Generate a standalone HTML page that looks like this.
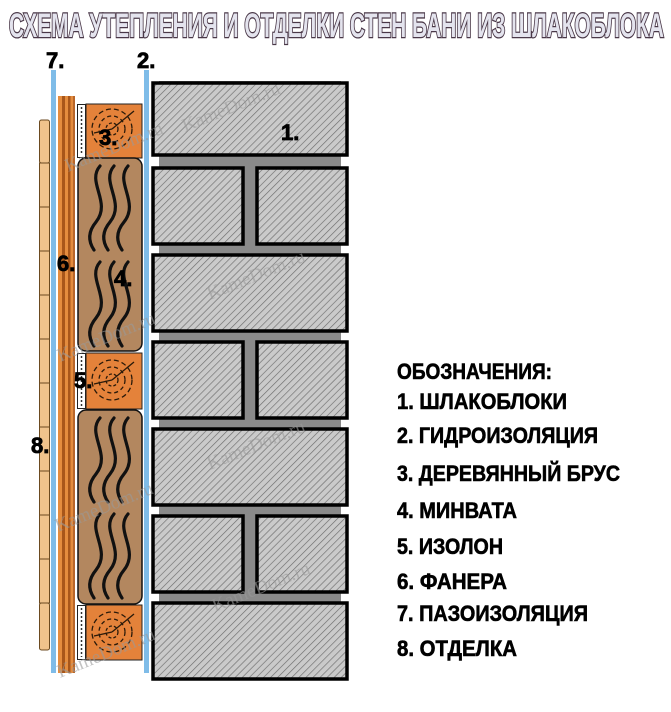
<!DOCTYPE html>
<html><head><meta charset="utf-8"><style>html,body{margin:0;padding:0;background:#fff;width:671px;height:712px;overflow:hidden}</style></head>
<body>
<svg width="671" height="712" viewBox="0 0 671 712" xmlns="http://www.w3.org/2000/svg">
<defs>
<pattern id="h" width="5" height="5" patternUnits="userSpaceOnUse" patternTransform="rotate(45)">
<rect width="5" height="5" fill="#cacaca"/><line x1="0" y1="0" x2="0" y2="5" stroke="#6d6d6d" stroke-width="1.3"/>
</pattern>
<g id="wood">
<circle cx="0" cy="0" r="20" fill="none" stroke="#2a1a0a" stroke-width="1.3" stroke-dasharray="5 3"/>
<circle cx="0" cy="0" r="13" fill="none" stroke="#2a1a0a" stroke-width="1.3" stroke-dasharray="4 3"/>
<circle cx="0" cy="0" r="6" fill="none" stroke="#2a1a0a" stroke-width="1.3" stroke-dasharray="3 2"/>
<line x1="0" y1="0" x2="22" y2="-18" stroke="#2a1a0a" stroke-width="1.3"/>
<line x1="0" y1="0" x2="-18" y2="4" stroke="#2a1a0a" stroke-width="1.3"/>
</g>
<g id="waves" fill="none" stroke="#111" stroke-width="3.2" stroke-linecap="round">
<path d="M22 4 C8 20,34 40,18 60 C8 72,12 82,16 88"/>
<path d="M36 4 C22 20,48 40,32 60 C22 72,26 82,30 88"/>
<path d="M50 4 C36 20,62 40,46 60 C36 72,40 82,44 88"/>
</g>
</defs>

<!-- title -->
<text x="9" y="37" textLength="655" lengthAdjust="spacingAndGlyphs" font-family="Liberation Sans Narrow, Liberation Sans, sans-serif" font-weight="bold" font-size="34" fill="#e4e4ee" stroke="#4a3848" stroke-width="2.6" paint-order="stroke">СХЕМА УТЕПЛЕНИЯ И ОТДЕЛКИ СТЕН БАНИ ИЗ ШЛАКОБЛОКА</text>

<!-- mortar -->
<rect x="159" y="81" width="182" height="598" fill="#8a8a8a"/>
<!-- blocks -->
<g fill="url(#h)" stroke="#000" stroke-width="3.5">
<rect x="153" y="83" width="194" height="72"/>
<rect x="153" y="168" width="90" height="76"/><rect x="257" y="168" width="90" height="76"/>
<rect x="153" y="255" width="194" height="76"/>
<rect x="153" y="342" width="90" height="76"/><rect x="257" y="342" width="90" height="76"/>
<rect x="153" y="429" width="194" height="76"/>
<rect x="153" y="516" width="90" height="76"/><rect x="257" y="516" width="90" height="76"/>
<rect x="153" y="603" width="194" height="76"/>
</g>

<!-- blue membranes -->
<rect x="144" y="70" width="5" height="603" fill="#7fbce8"/>
<rect x="51" y="70" width="5" height="603" fill="#7fbce8"/>

<!-- finish 8 -->
<g fill="#f0c38c" stroke="#6b4a20" stroke-width="1">
<rect x="39.5" y="120" width="10" height="43" rx="2"/>
<rect x="39.5" y="163" width="10" height="44"/>
<rect x="39.5" y="207" width="10" height="44"/>
<rect x="39.5" y="251" width="10" height="44"/>
<rect x="39.5" y="295" width="10" height="44"/>
<rect x="39.5" y="339" width="10" height="44"/>
<rect x="39.5" y="383" width="10" height="44"/>
<rect x="39.5" y="427" width="10" height="44"/>
<rect x="39.5" y="471" width="10" height="44"/>
<rect x="39.5" y="515" width="10" height="44"/>
<rect x="39.5" y="559" width="10" height="44"/>
<rect x="39.5" y="603" width="10" height="47" rx="2"/>
</g>

<!-- plywood 6 -->
<rect x="58" y="96" width="17" height="577" fill="#e48c3e"/>
<rect x="62" y="96" width="3" height="577" fill="#a8561a"/>
<rect x="68" y="96" width="2.5" height="577" fill="#a8561a"/>
<rect x="73" y="96" width="2" height="577" fill="#b8662a"/>

<!-- izolon strips -->
<g fill="#fff" stroke="#222" stroke-width="1">
<rect x="77.5" y="104.5" width="8" height="53"/>
<rect x="77.5" y="353.5" width="8" height="55"/>
<rect x="77.5" y="605.5" width="8" height="54"/>
</g>
<g stroke="#333" stroke-width="1.5" stroke-dasharray="2 2">
<line x1="81.5" y1="107" x2="81.5" y2="155"/>
<line x1="81.5" y1="356" x2="81.5" y2="406"/>
<line x1="81.5" y1="608" x2="81.5" y2="657"/>
</g>

<!-- bars 3/5 -->
<g fill="#e4823a" stroke="#222" stroke-width="1">
<rect x="86" y="104" width="56" height="54"/>
<rect x="86" y="353" width="56" height="56"/>
<rect x="86" y="605" width="56" height="55"/>
</g>
<use href="#wood" x="112" y="129"/>
<use href="#wood" x="112" y="380"/>
<use href="#wood" x="112" y="632"/>

<!-- minvata -->
<g fill="#b3875f" stroke="#111" stroke-width="1.5">
<rect x="78" y="158" width="64" height="193" rx="8"/>
<rect x="78" y="410" width="64" height="194" rx="8"/>
</g>
<use href="#waves" x="78" y="162"/>
<use href="#waves" x="78" y="258"/>
<use href="#waves" x="78" y="414"/>
<use href="#waves" x="78" y="510"/>

<!-- watermarks -->
<g font-family="Liberation Serif, serif" font-size="19" fill="#9a9a9a" opacity="0.6">
<text transform="translate(68,172) rotate(-22)">KameDom.ru</text>
<text transform="translate(210,300) rotate(-22)">KameDom.ru</text>
<text transform="translate(60,362) rotate(-22)">KameDom.ru</text>
<text transform="translate(210,470) rotate(-22)">KameDom.ru</text>
<text transform="translate(58,532) rotate(-22)">KameDom.ru</text>
<text transform="translate(215,612) rotate(-22)">KameDom.ru</text>
<text transform="translate(60,678) rotate(-22)">KameDom.ru</text>
<text transform="translate(185,132) rotate(-22)">KameDom.ru</text>
</g>

<!-- labels -->
<g font-family="Liberation Sans, sans-serif" font-weight="bold" font-size="22" fill="#000" stroke="#000" stroke-width="0.8">
<text x="46" y="68">7.</text>
<text x="137" y="68">2.</text>
<text x="281" y="140">1.</text>
<text x="99" y="145">3.</text>
<text x="114" y="286">4.</text>
<text x="57" y="271">6.</text>
<text x="74" y="388">5.</text>
<text x="31" y="453">8.</text>
</g>

<!-- legend -->
<g font-family="Liberation Sans Narrow, Liberation Sans, sans-serif" font-weight="bold" font-size="22" fill="#000" stroke="#000" stroke-width="0.6">
<text x="397" y="379" textLength="155" lengthAdjust="spacingAndGlyphs">ОБОЗНАЧЕНИЯ:</text>
<text x="397" y="409" textLength="170" lengthAdjust="spacingAndGlyphs">1. ШЛАКОБЛОКИ</text>
<text x="397" y="443" textLength="201" lengthAdjust="spacingAndGlyphs">2. ГИДРОИЗОЛЯЦИЯ</text>
<text x="397" y="481" textLength="223" lengthAdjust="spacingAndGlyphs">3. ДЕРЕВЯННЫЙ БРУС</text>
<text x="397" y="518" textLength="120" lengthAdjust="spacingAndGlyphs">4. МИНВАТА</text>
<text x="397" y="554" textLength="106" lengthAdjust="spacingAndGlyphs">5. ИЗОЛОН</text>
<text x="397" y="589" textLength="110" lengthAdjust="spacingAndGlyphs">6. ФАНЕРА</text>
<text x="397" y="621" textLength="191" lengthAdjust="spacingAndGlyphs">7. ПАЗОИЗОЛЯЦИЯ</text>
<text x="397" y="656" textLength="120" lengthAdjust="spacingAndGlyphs">8. ОТДЕЛКА</text>
</g>
</svg>
</body></html>
